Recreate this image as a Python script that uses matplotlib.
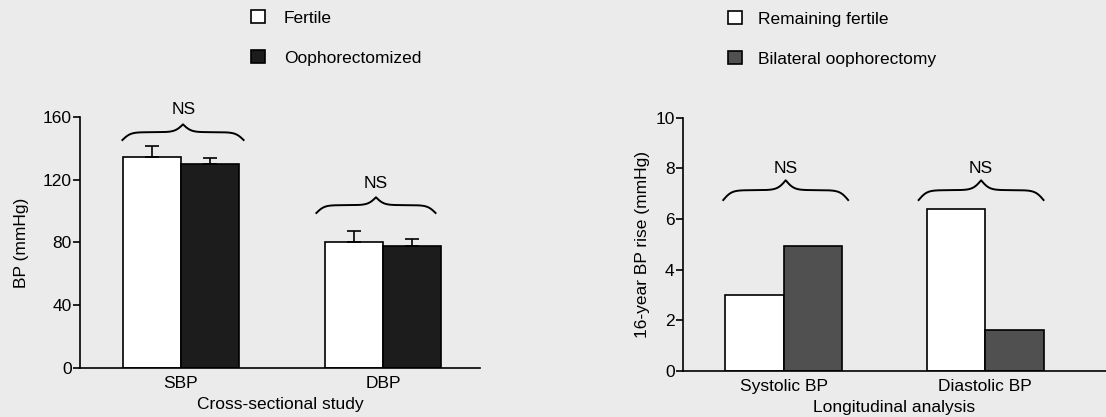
import numpy as np
import matplotlib
matplotlib.use("Agg")
import matplotlib.pyplot as plt

plt.rcParams['font.family'] = ['Liberation Sans', 'DejaVu Sans']

# Cross-sectional study
cs_groups = ["SBP", "DBP"]
cs_fertile = [134.5, 80.5]
cs_fertile_err = [7.2, 7.0]
cs_ooph = [130.0, 78.0]
cs_ooph_err = [3.6, 4.0]

# Longitudinal analysis
lg_groups = ["Systolic BP", "Diastolic BP"]
lg_fertile = [3.0, 6.4]
lg_ooph = [4.95, 1.6]

bg = '#ebebeb'
fig = plt.figure(figsize=(11.06, 4.17), dpi=100, facecolor=bg)


def brace(ax, x0, x1, y, h, beta=30):
    # curly brace opening downward, tip pointing up
    t = np.linspace(0, 0.5, 200)
    half = 1 / (1 + np.exp(-beta * (t - t[0]))) + 1 / (1 + np.exp(-beta * (t - t[-1])))
    yy = np.concatenate((half, half[-2::-1]))
    tt = np.linspace(0, 1, len(yy))
    ax.plot(x0 + tt * (x1 - x0), y + (yy - 0.5) * h, color='k', lw=1.4,
            clip_on=False)


def style(ax):
    ax.set_facecolor(bg)
    for s in ['top', 'right']:
        ax.spines[s].set_visible(False)
    for s in ['left', 'bottom']:
        ax.spines[s].set_linewidth(1.2)
    ax.tick_params(axis='y', direction='out', length=5, width=1.2, labelsize=12.5, pad=1)
    ax.tick_params(axis='x', length=0, labelsize=12.5, pad=6)


# ---- left chart
ax1 = fig.add_axes([0.0723, 0.1175, 0.3617, 0.602])
style(ax1)
x = np.arange(len(cs_groups))
w = 0.285
b1 = ax1.bar(x - w / 2, cs_fertile, w, color='white', edgecolor='k', lw=1.2, label='Fertile')
b2 = ax1.bar(x + w / 2, cs_ooph, w, color='#1c1c1c', edgecolor='k', lw=1.2, label='Oophorectomized')
ax1.errorbar(x - w / 2, cs_fertile, yerr=[np.zeros(2), cs_fertile_err], fmt='none',
             ecolor='k', elinewidth=1.2, capsize=5, capthick=1.2)
ax1.errorbar(x + w / 2, cs_ooph, yerr=[np.zeros(2), cs_ooph_err], fmt='none',
             ecolor='k', elinewidth=1.2, capsize=5, capthick=1.2)
ax1.set_xlim(-0.5, 1.48)
ax1.set_ylim(0, 160)
ax1.set_yticks([0, 40, 80, 120, 160])
ax1.set_xticks(x)
ax1.set_xticklabels(cs_groups)
ax1.set_ylabel('BP (mmHg)', fontsize=12.5, labelpad=10)
ax1.set_xlabel('Cross-sectional study', fontsize=12.5, labelpad=4)
brace(ax1, -0.29, 0.31, 145.3, 10)
ax1.text(0.015, 160, 'NS', ha='center', va='bottom', fontsize=12.5, clip_on=False)
brace(ax1, 0.67, 1.26, 98.8, 10)
ax1.text(0.965, 113, 'NS', ha='center', va='bottom', fontsize=12.5, clip_on=False)
ax1.legend(handles=[b1, b2], loc='upper left', bbox_to_anchor=(251 / 1106, 1 - 10 / 417),
           bbox_transform=fig.transFigure, frameon=False, fontsize=12.5,
           handlelength=0.8, handleheight=0.8, handletextpad=1.1, labelspacing=1.4,
           borderpad=0, borderaxespad=0)

# ---- right chart
ax2 = fig.add_axes([0.6175, 0.1103, 0.3825, 0.6074])
style(ax2)
w2 = 0.29
c1 = ax2.bar(x - w2 / 2, lg_fertile, w2, color='white', edgecolor='k', lw=1.2,
             label='Remaining fertile')
c2 = ax2.bar(x + w2 / 2, lg_ooph, w2, color='#505050', edgecolor='k', lw=1.2,
             label='Bilateral oophorectomy')
ax2.set_xlim(-0.5, 1.6)
ax2.set_ylim(0, 10)
ax2.set_yticks([0, 2, 4, 6, 8, 10])
ax2.set_xticks(x)
ax2.set_xticklabels(lg_groups)
ax2.set_ylabel('16-year BP rise (mmHg)', fontsize=12.5, labelpad=4)
ax2.set_xlabel('Longitudinal analysis', fontsize=12.5, labelpad=4)
brace(ax2, -0.30, 0.32, 6.75, 0.78)
ax2.text(0.01, 7.7, 'NS', ha='center', va='bottom', fontsize=12.5, clip_on=False)
brace(ax2, 0.67, 1.29, 6.75, 0.78)
ax2.text(0.98, 7.7, 'NS', ha='center', va='bottom', fontsize=12.5, clip_on=False)
ax2.legend(handles=[c1, c2], loc='upper left', bbox_to_anchor=(728 / 1106, 1 - 11 / 417),
           bbox_transform=fig.transFigure, frameon=False, fontsize=12.5,
           handlelength=0.8, handleheight=0.8, handletextpad=0.9, labelspacing=1.4,
           borderpad=0, borderaxespad=0)

fig.savefig('out.png', dpi=100, facecolor=bg)
